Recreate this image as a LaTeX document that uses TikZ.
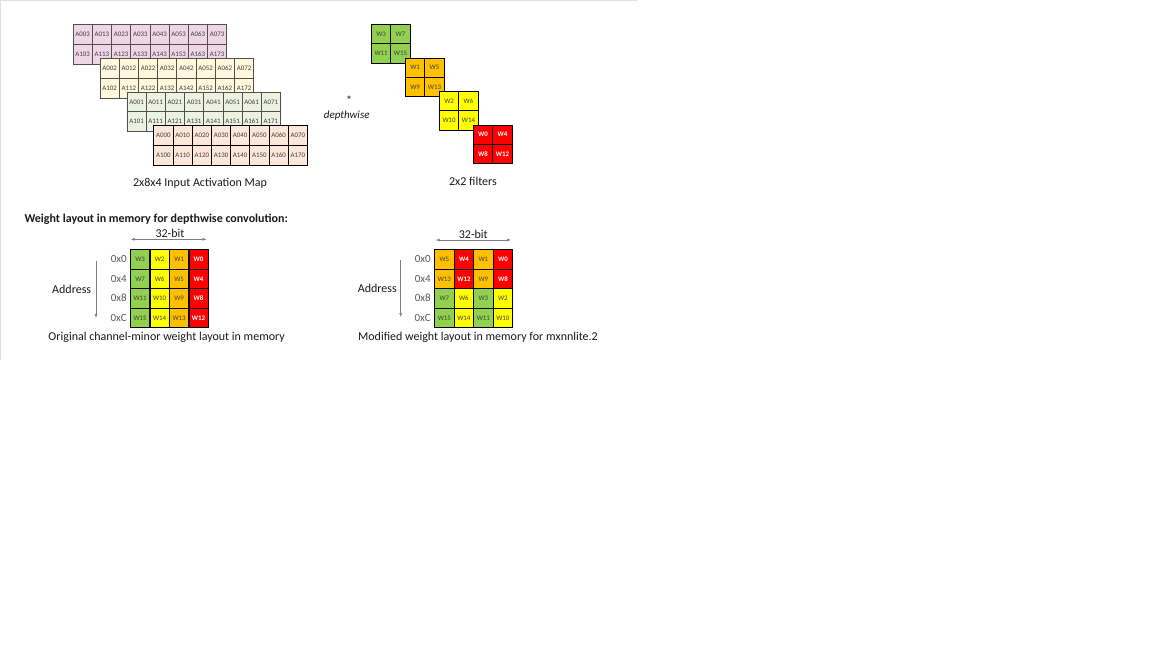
\documentclass[tikz,border=0pt]{standalone}
\usepackage{fontspec}
\setmainfont{Carlito}
\usetikzlibrary{arrows.meta}
\definecolor{lpink}{HTML}{EFD6E6}
\definecolor{lcream}{HTML}{FFF8DC}
\definecolor{lgreen}{HTML}{EDF2E0}
\definecolor{lpeach}{HTML}{FDE6DA}
\definecolor{bgray}{HTML}{505050}
\definecolor{fgreen}{HTML}{92D050}
\definecolor{forange}{HTML}{FFC000}
\definecolor{fyellow}{HTML}{FFFF00}
\definecolor{fred}{HTML}{FF0000}
\definecolor{txtgray}{HTML}{404040}
\definecolor{labgray}{HTML}{595959}
\definecolor{arrgray}{HTML}{7F7F7F}
\definecolor{txtmain}{HTML}{1A1A1A}
\tikzset{
  acell/.style={rectangle, line width=0.8pt, minimum width=19.2pt, minimum height=19.8pt,
    inner sep=0pt, anchor=north west, font=\fontsize{6.9}{7}\selectfont, text=txtgray},
  wcell/.style={rectangle, draw=black, line width=0.8pt, minimum width=19.4pt, minimum height=19.4pt,
    inner sep=0pt, anchor=north west, font=\fontsize{6.9}{7}\selectfont, text=txtgray},
  cg/.style={fill=fgreen},
  co/.style={fill=forange},
  cy/.style={fill=fyellow},
  cr/.style={fill=fred, text=white, font=\fontsize{6.9}{7}\selectfont\bfseries},
  maintext/.style={font=\fontsize{12}{14}\selectfont, text=txtmain, inner sep=0pt},
  rowlab/.style={font=\fontsize{11}{13}\selectfont, text=labgray, inner sep=0pt, anchor=east},
  dimarrow/.style={draw=arrgray, line width=0.6pt, {Latex[length=4pt,width=3pt]}-{Latex[length=4pt,width=3pt]}},
  addrarrow/.style={draw=arrgray, line width=0.6pt, -{Latex[length=4pt,width=3pt]}},
}
\begin{document}
\begin{tikzpicture}[x=1pt,y=-1pt]
\useasboundingbox[fill=white] (0,0) rectangle (1152,648);
\draw[draw=black!12, line width=1pt] (0,0.5) -- (637,0.5);
\draw[draw=black!12, line width=1pt] (0.5,0) -- (0.5,360);

% input activation map layers
\foreach \k/\fc/\bc in {3/lpink/bgray,2/lcream/bgray,1/lgreen/bgray,0/lpeach/black}{
  \pgfmathsetmacro\xo{72.7+(3-\k)*26.9}
  \pgfmathsetmacro\yo{24.3+(3-\k)*33.6}
  \foreach \c in {0,...,7}{
    \node[acell, fill=\fc, draw=\bc] (a\k-0-\c) at ({\xo+\c*19.2},{\yo}) {A0\c\k};
    \node[acell, fill=\fc, draw=\bc] (a\k-1-\c) at ({\xo+\c*19.2},{\yo+19.8}) {A1\c\k};
  }
}
\node[maintext] (lblA) at (200,183.3) {2x8x4 Input Activation Map};

% operator
\node[maintext] (star) at (349,100) {*};
\node[maintext, font=\fontsize{11}{13}\selectfont\itshape] (dw) at (346.7,115.7) {depthwise};

% filters
\foreach \i/\s/\wa/\wb/\wc/\wdd in {0/g/W3/W7/W11/W15,1/o/W1/W5/W9/W13,2/y/W2/W6/W10/W14,3/r/W0/W4/W8/W12}{
  \pgfmathsetmacro\xo{371+\i*34}
  \pgfmathsetmacro\yo{24+\i*33.5}
  \node[wcell, c\s] (f\i-00) at ({\xo},{\yo}) {\wa};
  \node[wcell, c\s] (f\i-01) at ({\xo+19.4},{\yo}) {\wb};
  \node[wcell, c\s] (f\i-10) at ({\xo},{\yo+19.4}) {\wc};
  \node[wcell, c\s] (f\i-11) at ({\xo+19.4},{\yo+19.4}) {\wdd};
}
\node[maintext] (lblF) at (473,181.7) {2x2 filters};

% title
\node[maintext, anchor=west, font=\fontsize{12}{14}\selectfont\bfseries] (title) at (24.3,219.3) {Weight layout in memory for depthwise convolution:};

% memory layout 1
\foreach \r/\row in {0/{W3/g,W2/y,W1/o,W0/r},1/{W7/g,W6/y,W5/o,W4/r},2/{W11/g,W10/y,W9/o,W8/r},3/{W15/g,W14/y,W13/o,W12/r}}{
  \foreach \lab/\s [count=\j from 0] in \row{
    \node[wcell, c\s] (m1-\r-\j) at ({130+\j*19.5},{249.3+\r*19.5}) {\lab};
  }
}
\foreach \r/\t in {0/0x0,1/0x4,2/0x8,3/0xC}{
  \node[rowlab] (m1r\r) at ({127},{259+\r*19.5}) {\t};
}
\coordinate (b1l) at (130.7,239.3);
\coordinate (b1r) at (206.7,239.3);
\draw[dimarrow] (b1l) -- (b1r);
\node[maintext] (bit1) at (170,233.5) {32-bit};
\coordinate (ad1t) at (96,261);
\coordinate (ad1b) at (96,318);
\draw[addrarrow] (ad1t) -- (ad1b);
\node[maintext] (addr1) at (71.7,289) {Address};
\node[maintext] (cap1) at (166.7,337.7) {Original channel-minor weight layout in memory};

% memory layout 2
\foreach \r/\row in {0/{W5/o,W4/r,W1/o,W0/r},1/{W13/o,W12/r,W9/o,W8/r},2/{W7/g,W6/y,W3/g,W2/y},3/{W15/g,W14/y,W11/g,W10/y}}{
  \foreach \lab/\s [count=\j from 0] in \row{
    \node[wcell, c\s] (m2-\r-\j) at ({434.3+\j*19.5},{249.3+\r*19.5}) {\lab};
  }
}
\foreach \r/\t in {0/0x0,1/0x4,2/0x8,3/0xC}{
  \node[rowlab] (m2r\r) at ({431},{259+\r*19.5}) {\t};
}
\coordinate (b2l) at (435.7,240);
\coordinate (b2r) at (511,240);
\draw[dimarrow] (b2l) -- (b2r);
\node[maintext] (bit2) at (473.3,234) {32-bit};
\coordinate (ad2t) at (400.7,260);
\coordinate (ad2b) at (400.7,317);
\draw[addrarrow] (ad2t) -- (ad2b);
\node[maintext] (addr2) at (377.3,288) {Address};
\node[maintext] (cap2) at (478,337.3) {Modified weight layout in memory for mxnnlite.2};
\end{tikzpicture}
\end{document}
